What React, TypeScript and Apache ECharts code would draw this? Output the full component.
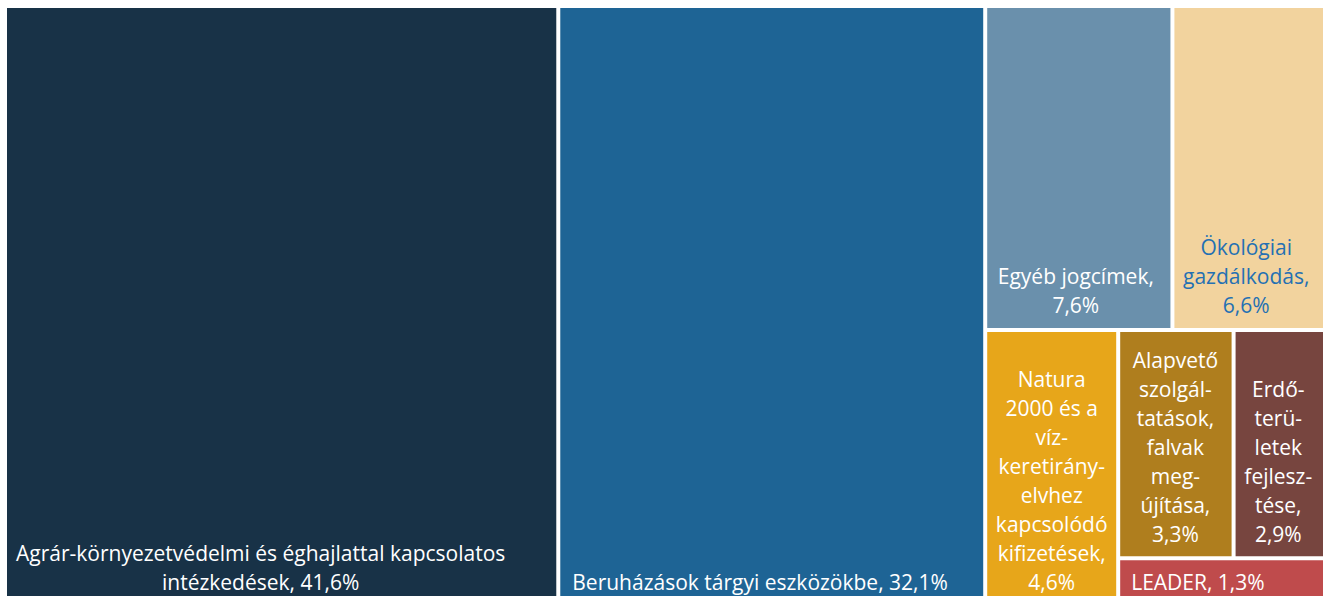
import { useEffect, useRef } from "react";
import * as echarts from "echarts";

// Category names, shares (%) and the label texts as printed (with the original line breaks)
const categories = [
  "Agrár-környezetvédelmi és éghajlattal kapcsolatos intézkedések",
  "Beruházások tárgyi eszközökbe",
  "Egyéb jogcímek",
  "Ökológiai gazdálkodás",
  "Natura 2000 és a víz-keretirányelvhez kapcsolódó kifizetések",
  "Alapvető szolgáltatások, falvak megújítása",
  "Erdőterületek fejlesztése",
  "LEADER",
];
const shares = [41.6, 32.1, 7.6, 6.6, 4.6, 3.3, 2.9, 1.3];
const labelTexts = [
  "Agrár-környezetvédelmi és éghajlattal kapcsolatos\nintézkedések, 41,6%",
  "Beruházások tárgyi eszközökbe, 32,1%",
  "Egyéb jogcímek,\n7,6%",
  "Ökológiai\ngazdálkodás,\n6,6%",
  "Natura\n2000 és a\nvíz-\nkeretirány-\nelvhez\nkapcsolódó\nkifizetések,\n4,6%",
  "Alapvető\nszolgál-\ntatások,\nfalvak\nmeg-\nújítása,\n3,3%",
  "Erdő-\nterü-\nletek\nfejlesz-\ntése,\n2,9%",
  "LEADER, 1,3%",
];

// Styles (kept apart from the data)
const fillColors = ["#183247", "#1E6495", "#6A90AC", "#F2D39E", "#E7A61A", "#AF7E1E", "#77453F", "#BF4B4C"];
const textColors = ["#fff", "#fff", "#fff", "#2470B3", "#fff", "#fff", "#fff", "#fff"];
const labelPos = ["insideBottom", "insideBottomLeft", "insideBottom", "insideBottom", "insideBottom", "insideBottom", "insideBottom", "insideBottomLeft"];
const labelPad = [
  [0, 42, 8, 0],
  [0, 0, 8, 12],
  [0, 6, 8, 0],
  [0, 15, 8, 0],
  [0, 0, 8, 0],
  [0, 1, 8, 0],
  [0, 12, 8, 0],
  [0, 0, 8, 11],
];

const leaf = (i: number) => ({
  name: categories[i],
  value: shares[i],
  itemStyle: { color: fillColors[i], borderWidth: 2, borderColor: "#ffffff" },
  label: {
    show: true,
    formatter: labelTexts[i],
    position: labelPos[i],
    padding: labelPad[i],
    color: textColors[i],
  },
});

const group = (name: string, children: any[]) => ({
  name,
  children,
  itemStyle: { borderWidth: 0, gapWidth: 0, borderColor: "#ffffff" },
});

export default function App() {
  const ref = useRef<HTMLDivElement>(null);

  useEffect(() => {
    if (!ref.current) return;
    const chart = echarts.init(ref.current, undefined, { renderer: "svg" });
    const data = [
      leaf(0),
      leaf(1),
      group("rest", [
        group("top", [leaf(2), leaf(3)]),
        group("bottom", [
          leaf(4),
          group("small", [group("pair", [leaf(5), leaf(6)]), leaf(7)]),
        ]),
      ]),
    ];
    chart.setOption({
      animation: false,
      backgroundColor: "#ffffff",
      series: [
        {
          type: "treemap",
          left: 0,
          top: 0,
          right: 0,
          bottom: 0,
          roam: false,
          nodeClick: false,
          sort: false,
          squareRatio: 1.14,
          breadcrumb: { show: false },
          itemStyle: { borderWidth: 0, gapWidth: 0, borderColor: "#ffffff" },
          label: {
            show: true,
            fontFamily: "Open Sans",
            fontSize: 21,
            lineHeight: 29,
            color: "#fff",
            overflow: "none",
            distance: 0,
          },
          upperLabel: { show: false },
          emphasis: { disabled: true },
          data,
        },
      ],
    });
    return () => chart.dispose();
  }, []);

  return (
    <div style={{ position: "fixed", left: 0, top: 0, width: "100vw", height: "100vh", overflow: "hidden", background: "#fff" }}>
      <div ref={ref} style={{ position: "absolute", left: 5, top: 6, width: 1330, height: 600 }} />
    </div>
  );
}
